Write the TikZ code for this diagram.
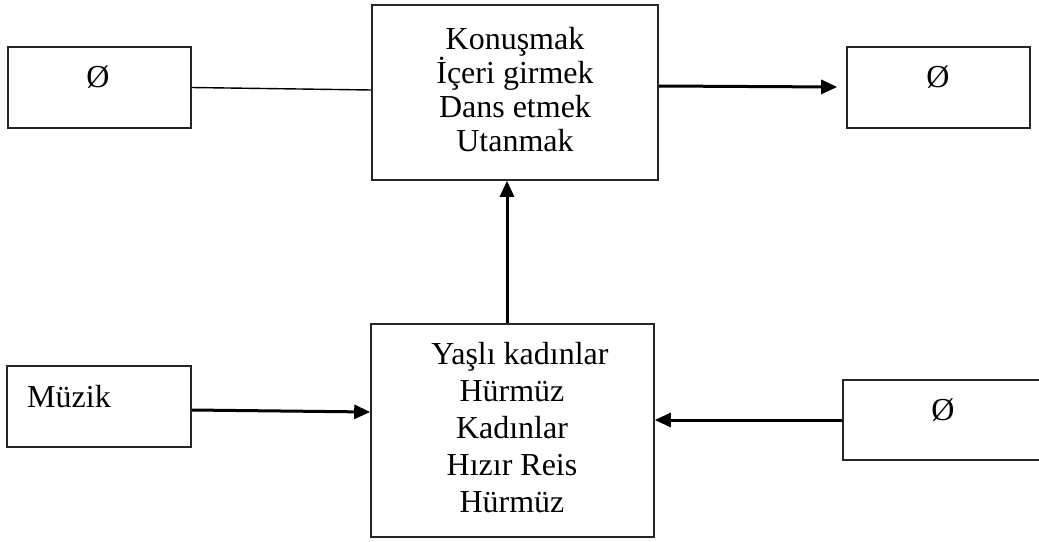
\documentclass[tikz,border=0pt]{standalone}
\usepackage{fontspec}
\setmainfont{Liberation Serif}
\usetikzlibrary{arrows.meta}
\begin{document}
\begin{tikzpicture}[x=1pt,y=-1pt,
  box/.style={draw=black!85, line width=1.6pt, inner sep=0pt, fill=white},
  txt/.style={inner sep=0pt, font=\fontsize{32}{34}\selectfont},
  flow/.style={line width=3pt, -{Triangle[length=16pt,width=14pt]}},
  thin/.style={line width=1.4pt}]
  \clip (0,0) rectangle (1039,541);
  \useasboundingbox (0,0) rectangle (1039,541);
  \fill[white] (0,0) rectangle (1039,541);

  % boxes
  \node[box, minimum width=183pt, minimum height=81pt] (tl) at (99.5,87.5) {};
  \node[box, minimum width=286pt, minimum height=175pt] (tc) at (515,92.5) {};
  \node[box, minimum width=183pt, minimum height=81pt] (tr) at (938.5,87.5) {};
  \node[box, minimum width=184pt, minimum height=81pt] (mz) at (99,406.5) {};
  \node[box, minimum width=283pt, minimum height=213pt] (bc) at (512.5,430.5) {};
  \node[box, minimum width=202pt, minimum height=80pt] (br) at (944,420) {};

  % texts
  \node[txt] (tlt) at (98,77) {Ø};
  \node[txt] (trt) at (938,77) {Ø};
  \node[txt] (brt) at (943,410) {Ø};
  \node[txt, anchor=west] (mzt) at (27,397) {Müzik};
  \node[txt, align=center, font=\fontsize{32}{34.2}\selectfont] (tct) at (515,89.5)
    {Konuşmak\\İçeri girmek\\Dans etmek\\Utanmak};
  \node[txt, align=center, font=\fontsize{32}{37.2}\selectfont] (bct) at (512,427.5)
    {\hspace*{16pt}Yaşlı kadınlar\\Hürmüz\\Kadınlar\\Hızır Reis\\Hürmüz};

  % connectors
  \draw[thin] (tl.east) -- ([yshift=2.5pt]tc.west);
  \draw[flow] ([yshift=6.5pt]tc.east) -- ([xshift=-9pt,yshift=0.5pt]tr.west);
  \draw[flow] ([xshift=-5.5pt]bc.north) -- ([xshift=-5.5pt]bc.north |- tc.south);
  \draw[flow] ([yshift=-3.5pt]mz.east) -- ([yshift=18.5pt]bc.west);
  \draw[flow] (br.west) -- (bc.east |- br.west);
\end{tikzpicture}
\end{document}
